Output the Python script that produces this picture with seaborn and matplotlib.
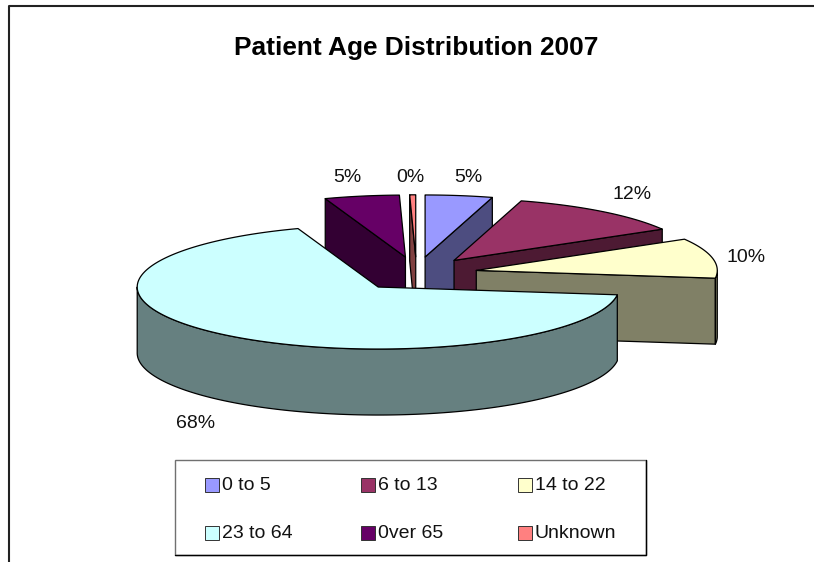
import numpy as np
import matplotlib
matplotlib.use("Agg")
import matplotlib.pyplot as plt
from matplotlib.patches import Polygon, Rectangle
import seaborn as sns

# --- data ---
categories = ["0 to 5", "6 to 13", "14 to 22", "23 to 64", "0ver 65", "Unknown"]
values = [4.5, 12.1, 10.4, 67.6, 5.0, 0.4]
pct_labels = ["5%", "12%", "10%", "68%", "5%", "0%"]
title = "Patient Age Distribution 2007"
colors = ["#9999FF", "#993366", "#FFFFCC", "#CCFFFF", "#660066", "#FF8080"]

# --- layout (pixels of the 814x562 canvas) ---
CX, CY = 416.5, 273.8
RX, RY = 241.0, 62.0
EX, EY = 61.0, 17.0
DEPTH = 66.0
draw_order = [4, 5, 0, 1, 2, 3]
label_xy = [(468, 177), (632.5, 194.5), (746, 257), (196, 423), (347, 177), (410, 177)]

sns.set_style("white")
plt.rcParams["font.family"] = ["Liberation Sans", "DejaVu Sans"]
palette = sns.color_palette(colors)

fig = plt.figure(figsize=(8.14, 5.62), dpi=100)
ax = fig.add_axes([0, 0, 1, 1])
ax.set_xlim(0, 814)
ax.set_ylim(562, 0)
ax.axis("off")

# chart frame: left and top edges only
ax.plot([8.5, 8.5, 814], [562, 5.5, 5.5], color="#222222", lw=1.5)


def darken(c):
    return tuple(v * 0.5 for v in c)


def project(theta, r, mid, z=0.0):
    """Angle clockwise from north, radius 0..1, explosion along mid angle."""
    x = CX + EX * np.sin(mid) + RX * r * np.sin(theta)
    y = CY - EY * np.cos(mid) - RY * r * np.cos(theta) + z
    return x, y


total = sum(values)
edges = np.concatenate([[0], np.cumsum(values)]) / total * 2 * np.pi

for i in draw_order:
    t0, t1 = edges[i], edges[i + 1]
    mid = (t0 + t1) / 2
    side = darken(palette[i])
    apex = project(0, 0, mid)
    apex_low = project(0, 0, mid, DEPTH)

    # radial cut faces that look towards the viewer
    for t, visible in ((t0, np.sin(t0) < 0), (t1, np.sin(t1) > 0)):
        if visible:
            p = project(t, 1, mid)
            q = project(t, 1, mid, DEPTH)
            ax.add_patch(Polygon([apex, p, q, apex_low], closed=True, fc=side,
                                 ec="black", lw=0.9, joinstyle="round"))

    # outer rim, front half only
    a, b = max(t0, np.pi / 2), min(t1, 3 * np.pi / 2)
    if b > a:
        th = np.linspace(a, b, 200)
        up = [project(t, 1, mid) for t in th]
        low = [project(t, 1, mid, DEPTH) for t in th[::-1]]
        ax.add_patch(Polygon(up + low, closed=True, fc=side, ec="black",
                             lw=0.9, joinstyle="round"))

    # top face
    th = np.linspace(t0, t1, 200)
    ax.add_patch(Polygon([apex] + [project(t, 1, mid) for t in th], closed=True,
                         fc=palette[i], ec="black", lw=0.9, joinstyle="round"))

for lab, (x, y) in zip(pct_labels, label_xy):
    ax.text(x, y, lab, fontsize=14, ha="center", va="center", color="#111111")

ax.text(416.5, 48, title, fontsize=18.9, fontweight="bold", ha="center",
        va="center", color="black")

# legend: grey top/left, black bottom/right
LX0, LX1, LY0, LY1 = 174.5, 645.5, 459.5, 555.0
ax.add_patch(Rectangle((LX0, LY0), LX1 - LX0, LY1 - LY0, fc="white", ec="#707070", lw=1.0))
ax.plot([LX0, LX1, LX1], [LY1, LY1, LY0], color="black", lw=1.0)
col_x = [205, 361, 518]
row_y = [485, 533]
for i, cat in enumerate(categories):
    x, y = col_x[i % 3], row_y[i // 3]
    ax.add_patch(Rectangle((x, y - 7), 13.5, 13.5, fc=palette[i], ec="#333333", lw=0.7))
    ax.text(x + 17, y + 0.5, cat, fontsize=14, ha="left", va="center", color="#111111")

fig.savefig("out.png", dpi=100, facecolor="white")
